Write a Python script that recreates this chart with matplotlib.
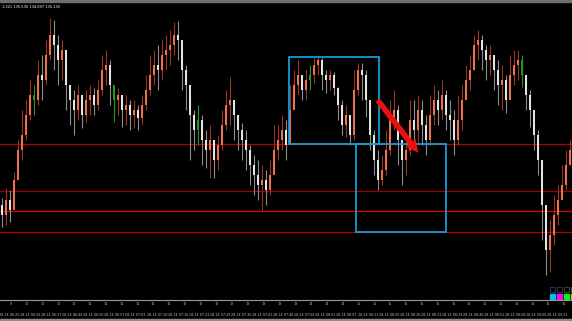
import numpy as np
import matplotlib.pyplot as plt
from matplotlib.patches import Rectangle, FancyArrowPatch

# price values (chart units), one bar per entry
close = [85, 100, 90, 120, 150, 165, 185, 205, 200, 225,
         220, 245, 265, 255, 240, 250, 215, 200, 190, 205,
         185, 200, 205, 195, 210, 230, 235, 215, 200, 205,
         190, 195, 185, 190, 182, 195, 210, 225, 235, 230,
         245, 250, 255, 265, 260, 230, 215, 185, 170, 180,
         160, 150, 160, 140, 155, 175, 195, 200, 185, 170,
         160, 150, 135, 125, 115, 120, 110, 125, 150, 160,
         170, 155, 190, 215, 225, 210, 220, 225, 235, 240,
         225, 220, 225, 212, 195, 175, 185, 165, 210, 230,
         225, 200, 165, 140, 120, 130, 150, 180, 190, 160,
         140, 150, 180, 170, 190, 175, 160, 185, 200, 190,
         205, 185, 180, 160, 180, 200, 220, 230, 255, 260,
         250, 240, 245, 230, 215, 220, 200, 225, 235, 240,
         225, 205, 190, 165, 140, 95, 50, 65, 85, 100,
         115, 135, 150]
high = [102, 112, 110, 128, 160, 190, 200, 220, 215, 240,
        245, 260, 282, 280, 265, 260, 240, 215, 210, 215,
        205, 210, 215, 212, 220, 245, 250, 240, 215, 212,
        205, 205, 200, 200, 195, 205, 225, 245, 250, 255,
        260, 265, 270, 278, 279, 250, 235, 205, 190, 195,
        185, 170, 175, 160, 165, 190, 210, 223, 200, 185,
        177, 170, 155, 145, 140, 135, 130, 140, 175, 175,
        185, 180, 215, 230, 240, 225, 230, 235, 242, 245,
        242, 230, 230, 228, 213, 200, 195, 180, 230, 237,
        237, 230, 200, 170, 150, 145, 170, 200, 210, 195,
        160, 160, 200, 200, 205, 200, 185, 205, 215, 210,
        220, 210, 200, 190, 205, 215, 235, 245, 265, 270,
        265, 255, 255, 245, 240, 235, 225, 245, 250, 250,
        245, 220, 210, 180, 170, 140, 75, 80, 105, 115,
        135, 150, 160]
low = [73, 75, 78, 100, 122, 140, 160, 180, 185, 195,
       200, 215, 240, 230, 215, 220, 190, 175, 165, 180,
       172, 178, 185, 185, 190, 205, 215, 195, 178, 185,
       173, 175, 170, 172, 170, 175, 190, 205, 215, 210,
       220, 230, 235, 245, 240, 210, 190, 140, 150, 155,
       135, 132, 122, 122, 130, 150, 170, 175, 160, 150,
       140, 130, 115, 105, 100, 90, 95, 105, 130, 140,
       150, 140, 157, 195, 205, 200, 200, 210, 217, 225,
       210, 207, 210, 205, 180, 165, 163, 155, 160, 205,
       200, 183, 150, 125, 110, 115, 125, 145, 170, 135,
       115, 125, 145, 155, 155, 155, 145, 155, 175, 175,
       180, 170, 160, 145, 155, 170, 200, 210, 230, 240,
       230, 220, 225, 210, 195, 190, 187, 205, 215, 220,
       213, 190, 173, 150, 125, 60, 25, 28, 55, 75,
       100, 110, 135]
first_open = 95
green_bars = [8, 28, 49, 77, 130]

levels = [156, 109, 89, 68]
level_colors = ['#b00000', '#a00000', '#e00000', '#b00000']

# rectangles drawn on the chart: (left bar, bottom price, width in bars, height)
boxes = [(71.75, 156, 22.5, 87), (88.5, 68, 22.5, 88)]
arrow_from = (93.5, 202)
arrow_to = (104.5, 145)

bar_numbers = ['9', '10', '10', '10', '10', '11', '11', '11', '11', '11', '11', '12',
               '12', '12', '12', '13', '13', '13', '13', '14', '14', '14', '15', '15',
               '15', '16', '16', '16', '16', '16', '15', '15', '16', '16', '16', '16']
date_labels = ['28.14 06:25', '28.14 06:32', '28.14 06:37', '28.14 06:44', '28.14 06:50',
               '28.14 06:57', '28.14 07:03', '28.14 07:10', '28.14 07:16', '28.14 07:23',
               '28.14 07:29', '28.14 07:35', '28.14 07:41', '28.14 07:48', '28.14 07:54',
               '28.14 08:01', '28.14 08:07', '28.14 08:13', '28.14 08:20', '28.14 08:26',
               '28.14 08:33', '28.14 08:39', '28.14 08:46', '28.14 08:52', '28.14 08:58',
               '28.14 09:05', '28.14 09:11']
header = '1,321 135.535 134.897 135.135'

n = len(close)
x = np.arange(n)
o = np.array([first_open] + close[:-1], dtype=float)
c = np.array(close, dtype=float)
h = np.array(high, dtype=float)
l = np.array(low, dtype=float)

fig = plt.figure(figsize=(5.72, 3.21), dpi=100, facecolor='black')
ax = fig.add_axes([0, 21 / 321, 1, 298 / 321], facecolor='black')
ax.set_xlim(-0.5, n - 0.5)
ax.set_ylim(0, 298)
ax.axis('off')

for lv, col in zip(levels, level_colors):
    ax.axhline(lv, color=col, lw=0.9, zorder=1)

up = c >= o
wick_col = np.where(up, '#9a3522', '#8c8c8c')
body_col = np.where(up, '#f0714f', '#e4e4e4')
for i in green_bars:
    wick_col[i] = '#1f9a1f'
    body_col[i] = '#1f9a1f'

ax.vlines(x, l, h, colors=wick_col, lw=0.8, zorder=2)
bottoms = np.minimum(o, c)
heights = np.maximum(np.abs(c - o), 1.0)
ax.bar(x, heights, bottom=bottoms, width=0.6, color=body_col, linewidth=0, zorder=3)

for bx, by, bw, bh in boxes:
    ax.add_patch(Rectangle((bx, by), bw, bh, fill=False, edgecolor='#1a9ad6',
                           lw=1.3, zorder=4))

ax.add_patch(FancyArrowPatch(arrow_from, arrow_to,
                             arrowstyle='simple,head_width=1.0,head_length=1.0,tail_width=0.45',
                             mutation_scale=9, color='#e81010', lw=0, zorder=5))

# top strip and header text
fig.add_artist(Rectangle((0, 1 - 2 / 321), 1, 2 / 321, transform=fig.transFigure,
                         color='#6e6e6e'))
fig.text(2 / 572, 1 - 7 / 321, header, color='white', fontsize=2.6, va='center')

# bottom strip
fig.add_artist(plt.Line2D([0, 1], [21 / 321, 21 / 321], transform=fig.transFigure,
                          color='#9a9a9a', lw=0.8))
fig.add_artist(Rectangle((0, 0), 1, 2 / 321, transform=fig.transFigure, color='#8a8a8a'))
for k, s in enumerate(bar_numbers):
    fig.text((11 + k * 15.8) / 572, 17 / 321, s, color='#bbbbbb', fontsize=2.4,
             ha='center', va='center')
for k, s in enumerate(date_labels):
    fig.text((9 + k * 21.1) / 572, 6.5 / 321, s, color='#bbbbbb', fontsize=2.4,
             ha='center', va='center')

# small colour boxes at bottom right
sq_edge = ['#1c4a7a', '#6a1a7a', '#1a6a1a', '#6a6a1a']
sq_fill = ['#10b8f0', '#f010f0', '#10f010', '#c0c010']
for k in range(4):
    fx = (550 + k * 7) / 572
    fig.add_artist(Rectangle((fx, 29 / 321), 5 / 572, 5 / 321, transform=fig.transFigure,
                             fill=False, edgecolor=sq_edge[k], lw=0.6))
    fig.add_artist(Rectangle((fx, 22 / 321), 5 / 572, 5 / 321, transform=fig.transFigure,
                             color=sq_fill[k]))

fig.savefig('out.png', dpi=100, facecolor='black')
